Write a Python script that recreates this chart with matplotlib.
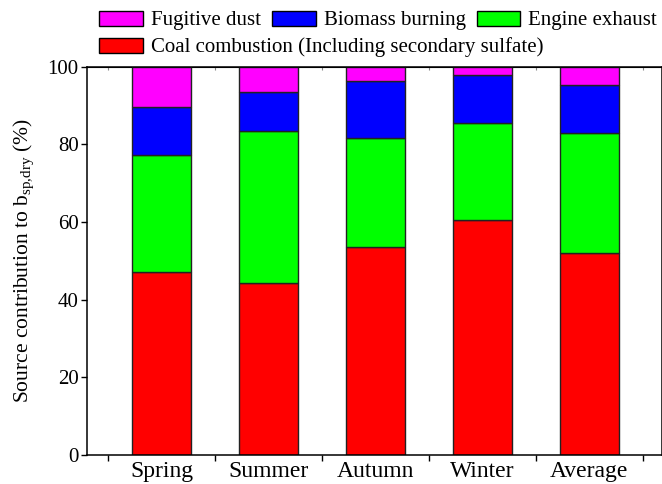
import numpy as np
import matplotlib
matplotlib.use("Agg")
import matplotlib.pyplot as plt
from matplotlib.patches import Patch

plt.rcParams['font.family'] = ['Liberation Serif', 'DejaVu Serif']
plt.rcParams['mathtext.fontset'] = 'custom'
plt.rcParams['mathtext.rm'] = 'Liberation Serif'
plt.rcParams['mathtext.it'] = 'Liberation Serif:italic'

seasons = ["Spring", "Summer", "Autumn", "Winter", "Average"]
coal = [47.2, 44.2, 53.5, 60.6, 52.1]
engine = [30.1, 39.2, 28.1, 24.9, 30.8]
biomass = [12.2, 10.1, 14.8, 12.3, 12.4]
dust = [10.5, 6.5, 3.6, 2.2, 4.7]

colors = {"dust": "#ff00ff", "biomass": "#0000ff", "engine": "#00ff00", "coal": "#ff0000"}
names = {"dust": "Fugitive dust", "biomass": "Biomass burning",
         "engine": "Engine exhaust", "coal": "Coal combustion (Including secondary sulfate)"}

fig = plt.figure(figsize=(6.62, 4.84), dpi=100)
ax = fig.add_axes([86.7/662, 29/484, 1 - 86.7/662, (455 - 66.7)/484])

x = np.arange(len(seasons))
w = 0.55
bottom = np.zeros(len(seasons))
for key, vals in [("coal", coal), ("engine", engine), ("biomass", biomass), ("dust", dust)]:
    ax.bar(x, vals, w, bottom=bottom, color=colors[key], edgecolor="#222222", linewidth=1.0)
    bottom += np.array(vals)

ax.set_xlim(-0.7, 4.68)
ax.set_ylim(0, 100)
ax.set_yticks(np.arange(0, 101, 20))
ax.tick_params(axis='y', direction='out', length=4.3, width=1, labelsize=15, pad=1.5)

# ticks between bars, labels under bar centres
ax.set_xticks(np.arange(-0.5, 5, 1))
ax.set_xticklabels([])
ax.set_xticks(x, seasons, minor=True)
ax.tick_params(axis='x', which='major', direction='out', length=4.3, width=1)
ax.tick_params(axis='x', which='minor', length=0, labelsize=17, pad=4)

top = ax.secondary_xaxis('top')
top.set_xticks(np.arange(-0.5, 5, 1))
top.set_xticks(x, minor=True)
top.tick_params(which='both', direction='in', length=2.5, width=0.8, colors='#888888',
                labeltop=False)
top.spines['top'].set_color('black')

for s in ax.spines.values():
    s.set_linewidth(1.1)

ax.set_ylabel(r"Source contribution to b$_{\mathrm{sp{,}dry}}$ (%)", fontsize=15.5, labelpad=8)

kw = dict(frameon=False, fontsize=15, handlelength=2.1, handleheight=0.72,
          handletextpad=0.38, columnspacing=0.53, borderpad=0, borderaxespad=0)
row1 = [Patch(facecolor=colors[k], edgecolor="black", linewidth=1.0) for k in ("dust", "biomass", "engine")]
fig.legend(row1, [names[k] for k in ("dust", "biomass", "engine")], ncol=3,
           loc='center left', bbox_to_anchor=(99.3/662, 1 - 20.5/484), **kw)
row2 = [Patch(facecolor=colors["coal"], edgecolor="black", linewidth=1.0)]
fig.legend(row2, [names["coal"]], loc='center left',
           bbox_to_anchor=(99.3/662, 1 - 47.5/484), **kw)

fig.savefig("out.png", dpi=100)
